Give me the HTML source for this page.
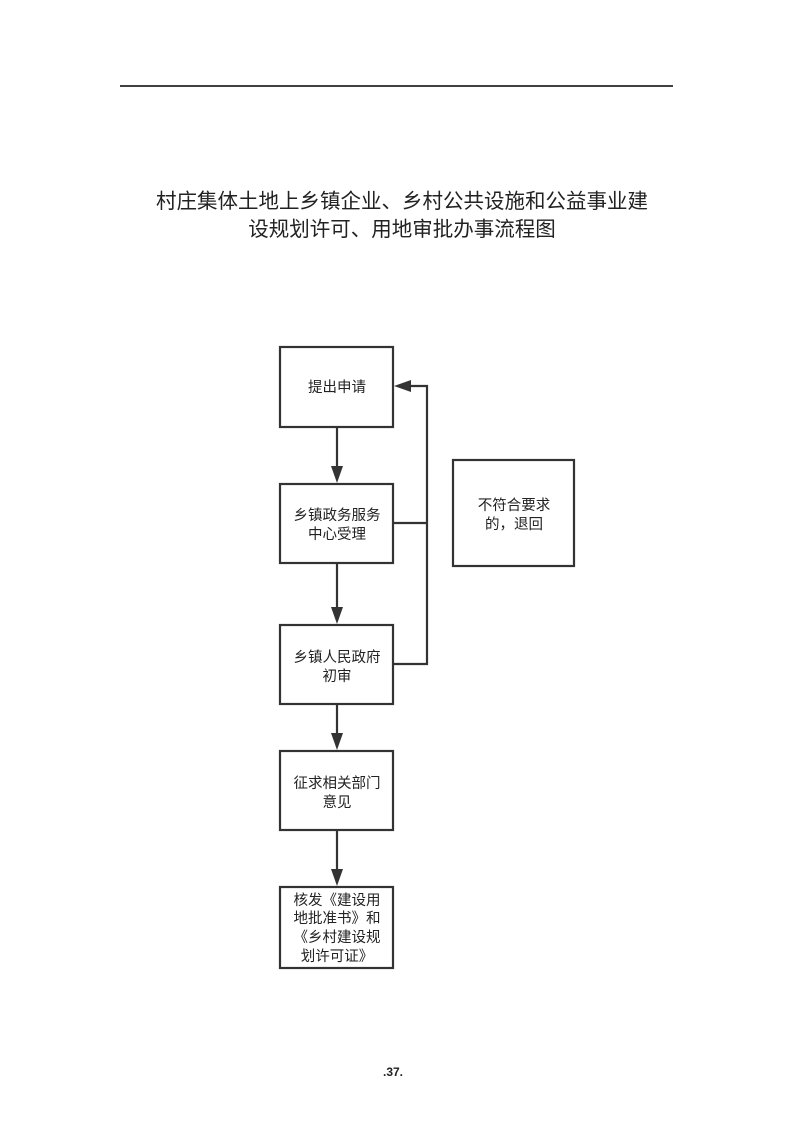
<!DOCTYPE html>
<html><head><meta charset="utf-8"><style>
body{margin:0;width:793px;height:1122px;background:#fff;overflow:hidden}
svg{display:block}
text{font-family:"Liberation Sans","Noto Sans CJK SC",sans-serif;fill:#222}
</style></head><body>
<svg width="793" height="1122" viewBox="0 0 793 1122">
<line x1="120" y1="86" x2="673" y2="86" stroke="#000" stroke-width="1.5"/>
<text x="402" y="208" font-size="20.5" text-anchor="middle">村庄集体土地上乡镇企业、乡村公共设施和公益事业建</text>
<text x="402" y="236" font-size="20.5" text-anchor="middle">设规划许可、用地审批办事流程图</text>
<g fill="none" stroke="#333" stroke-width="2.2">
<rect x="280" y="347" width="113" height="80"/>
<rect x="280" y="484" width="113" height="79"/>
<rect x="280" y="625" width="113" height="79"/>
<rect x="280" y="751" width="113" height="79"/>
<rect x="280" y="887" width="113" height="81"/>
<rect x="453" y="460" width="121" height="106"/>
<line x1="337" y1="427" x2="337" y2="468"/>
<line x1="337" y1="563" x2="337" y2="609"/>
<line x1="337" y1="704" x2="337" y2="735"/>
<line x1="337" y1="830" x2="337" y2="871"/>
<polyline points="393,664 427,664 427,386 410,386"/>
<line x1="393" y1="523" x2="427" y2="523"/>
</g>
<g fill="#333">
<polygon points="331,466 343,466 337,483"/>
<polygon points="331,607 343,607 337,624"/>
<polygon points="331,733 343,733 337,750"/>
<polygon points="331,869 343,869 337,886"/>
<polygon points="394,386 411,380 411,392"/>
</g>
<g font-size="14.5" text-anchor="middle">
<text x="337" y="392">提出申请</text>
<text x="337" y="520">乡镇政务服务</text>
<text x="337" y="539">中心受理</text>
<text x="337" y="662">乡镇人民政府</text>
<text x="337" y="681">初审</text>
<text x="337" y="788">征求相关部门</text>
<text x="337" y="807">意见</text>
<text x="337" y="905">核发《建设用</text>
<text x="337" y="923">地批准书》和</text>
<text x="337" y="942">《乡村建设规</text>
<text x="337" y="961">划许可证》</text>
<text x="514" y="510">不符合要求</text>
<text x="514" y="529">的，退回</text>
</g>
<text x="393" y="1076" font-size="12" font-weight="bold" text-anchor="middle">.37.</text>
</svg>
</body></html>
